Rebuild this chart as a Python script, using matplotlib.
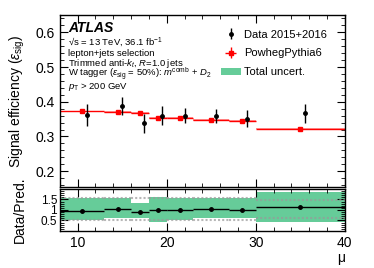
import numpy as np
import matplotlib
matplotlib.use('Agg')
import matplotlib.pyplot as plt
from matplotlib.patches import Patch
from matplotlib.ticker import MultipleLocator

plt.rcParams['font.family'] = ['Liberation Sans', 'DejaVu Sans']
plt.rcParams['mathtext.fontset'] = 'custom'
plt.rcParams['mathtext.rm'] = 'Liberation Sans'
plt.rcParams['mathtext.it'] = 'Liberation Sans:italic'
plt.rcParams['mathtext.bf'] = 'Liberation Sans:bold'

#--------------------------------------------
# Values
#--------------------------------------------
bin_edges = [8, 13, 16, 18, 20, 23, 27, 30, 40]
mc_eff = [0.373, 0.371, 0.367, 0.354, 0.354, 0.348, 0.345, 0.322]
mc_err = [0.001, 0.003, 0.003, 0.003, 0.003, 0.003, 0.003, 0.001]
data_eff = [0.362, 0.389, 0.338, 0.360, 0.360, 0.359, 0.351, 0.367]
data_err = [0.032, 0.026, 0.028, 0.028, 0.021, 0.019, 0.024, 0.028]
data_shift = 0.5

# ratio panel bands
tot_lo = [0.50, 0.60, 0.61, 0.45, 0.50, 0.60, 0.60, 0.45]
tot_hi = [1.55, 1.55, 1.31, 1.62, 1.55, 1.55, 1.55, 1.86]
stat_lo = [0.50, 0.52, 0.53, 0.50, 0.50, 0.52, 0.52, 0.60]
stat_hi = [1.55, 1.55, 1.55, 1.55, 1.55, 1.55, 1.55, 1.47]

green = '#66cc99'

edges = np.array(bin_edges, dtype=float)
centers = 0.5 * (edges[:-1] + edges[1:])
widths = edges[1:] - edges[:-1]
mc = np.array(mc_eff)
data = np.array(data_eff)
ratio = data / mc

#--------------------------------------------
# Figure
#--------------------------------------------
fig = plt.figure(figsize=(3.74, 2.68), dpi=100)
ax = fig.add_axes([0.160, 0.303, 0.762, 0.641])
rax = fig.add_axes([0.160, 0.138, 0.762, 0.157], sharex=ax)

# MC stat band + MC line
ax.bar(centers, 2 * np.array(mc_err), bottom=mc - np.array(mc_err), width=widths,
       color='#ff9f9f', linewidth=0, zorder=1)
h_mc = ax.errorbar(centers, mc, xerr=widths / 2, yerr=mc_err, fmt='s', color='red',
                   ms=2.2, lw=1.0, capsize=0, zorder=2)
h_data = ax.errorbar(centers + data_shift, data, yerr=data_err, fmt='o', color='black',
                     ms=2.5, lw=1.0, capsize=0, zorder=3)
h_tot = Patch(facecolor=green, edgecolor='none')

ax.set_xlim(8, 40)
ax.set_ylim(0.155, 0.65)
ax.set_ylabel(r'Signal efficiency ($ε_{\mathrm{sig}}$)', fontsize=10)
ax.yaxis.set_label_coords(-0.115, 0.5)
ax.yaxis.set_major_locator(MultipleLocator(0.1))
ax.yaxis.set_minor_locator(MultipleLocator(0.02))
plt.setp(ax.get_xticklabels(), visible=False)

leg = ax.legend([h_data, h_mc, h_tot], ['Data 2015+2016', 'PowhegPythia6', 'Total uncert.'],
                loc='upper left', bbox_to_anchor=(0.525, 0.98), frameon=False, fontsize=8,
                handlelength=1.8, handletextpad=0.35, labelspacing=0.8, borderpad=0.5)

tx = 0.028
ax.text(tx, 0.900, 'ATLAS', transform=ax.transAxes, fontsize=10, fontweight='bold',
        fontstyle='italic', va='baseline')
lines = [(0.825, r'√s = 13 TeV, 36.1 fb$^{\mathrm{-1}}$'),
         (0.763, 'lepton+jets selection'),
         (0.701, r'Trimmed anti-$k_{t}$, $R$=1.0 jets'),
         (0.640, r'W tagger ($ε_{\mathrm{sig}}$ = 50%): $m^{\mathrm{comb}}$ + $D_{2}$'),
         (0.570, r'$p_{\mathrm{T}}$ > 200 GeV')]
for yy, s in lines:
    ax.text(tx, yy, s, transform=ax.transAxes, fontsize=6.8, va='baseline')

#--------------------------------------------
# Ratio panel
#--------------------------------------------
rax.bar(centers, np.array(tot_hi) - np.array(tot_lo), bottom=tot_lo, width=widths,
        color=green, linewidth=0, zorder=1)
rax.hlines(stat_hi, edges[:-1], edges[1:], colors='#999999', linestyles=(0, (1, 1)),
           linewidth=1.5, alpha=0.7, zorder=2)
rax.hlines(stat_lo, edges[:-1], edges[1:], colors='#999999', linestyles=(0, (1, 1)),
           linewidth=1.5, alpha=0.7, zorder=2)
rax.errorbar(centers, ratio, xerr=widths / 2, fmt='o', color='black', ms=2.5, lw=1.0,
             capsize=0, zorder=3)
rax.set_ylim(0.0, 2.0)
rax.set_yticks([0.5, 1.0, 1.5])
rax.set_yticklabels(['0.5', '1', '1.5'])
rax.yaxis.set_minor_locator(MultipleLocator(0.1))
rax.set_ylabel('Data/Pred.', fontsize=10)
rax.yaxis.set_label_coords(-0.115, 0.5)
rax.set_xlabel('μ', fontsize=10, loc='right', labelpad=1)
rax.xaxis.set_major_locator(MultipleLocator(10))
rax.xaxis.set_minor_locator(MultipleLocator(2))

for a in (ax, rax):
    a.tick_params(which='both', direction='in', top=True, right=True, labelsize=10)
    a.tick_params(which='major', length=6)
    a.tick_params(which='minor', length=3)
    for sp in a.spines.values():
        sp.set_linewidth(1.0)
rax.tick_params(axis='y', labelsize=8.5, pad=2)

fig.savefig('out.png', dpi=100)
